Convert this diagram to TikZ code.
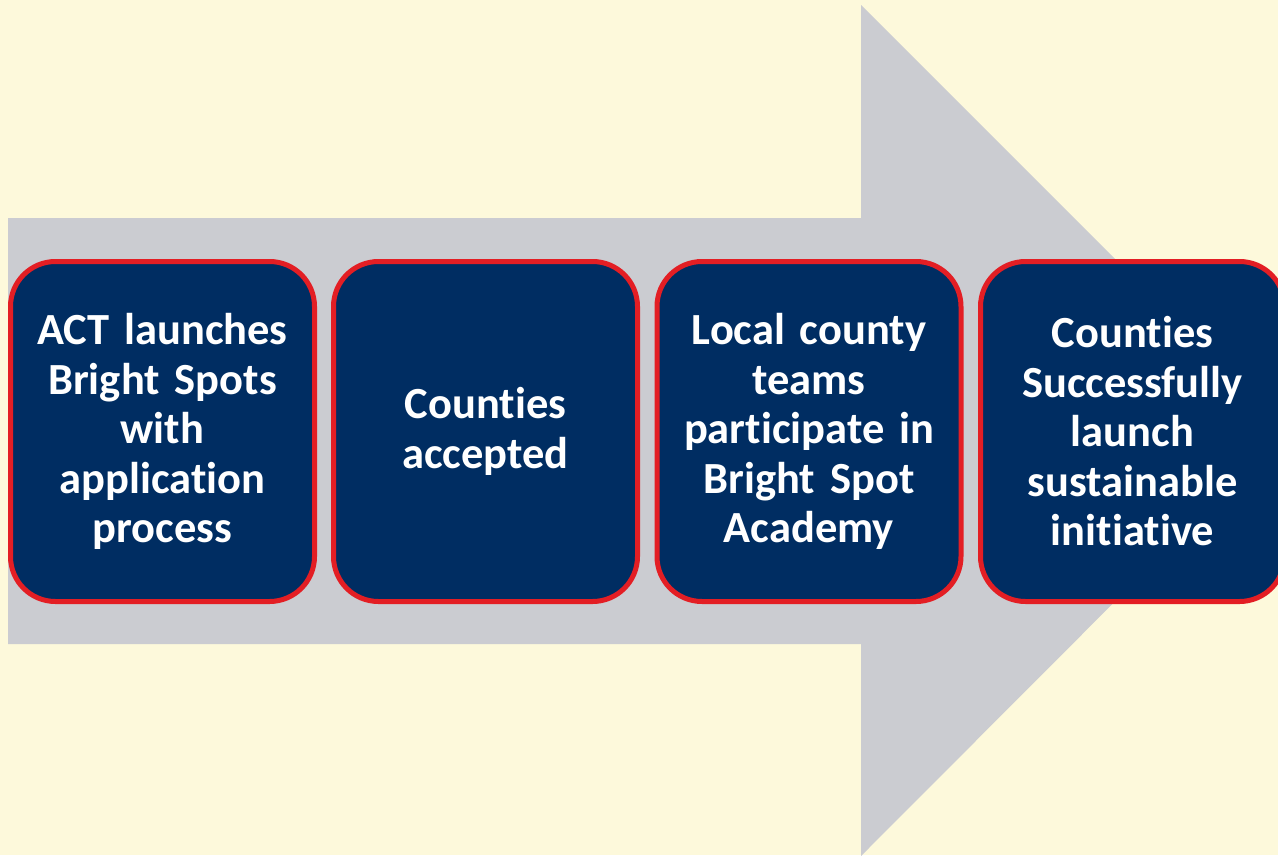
\documentclass[tikz,border=0pt]{standalone}
\usepackage{fontspec}
\setmainfont{Carlito}[Ligatures={NoCommon}]
\definecolor{bgcream}{HTML}{FDF9DB}
\definecolor{arrowgrey}{HTML}{CBCCD1}
\definecolor{boxnavy}{HTML}{002D62}
\definecolor{boxred}{HTML}{E31E24}
\protected\def\stagefont{\bfseries\fontsize{44.5}{49.5}\selectfont\fontdimen2\font=0.16em\relax}
\tikzset{
  stagebox/.style={draw=boxred, fill=boxnavy, line width=5pt, rounded corners=45pt,
    minimum width=304pt, minimum height=340pt, inner sep=0pt,
    text=white, align=center, text width=296pt,
    font=\stagefont}
}
\begin{document}
\begin{tikzpicture}[x=1pt,y=-1pt]
\useasboundingbox (0,0) rectangle (1278,855);
\clip (0,0) rectangle (1278,855);
\fill[bgcream] (0,0) rectangle (1278,855);
\fill[arrowgrey] (8,218) -- (861,218) -- (861,5) -- (1286,430) -- (861,856) -- (861,644) -- (8,644) -- cycle;
\node[stagebox] (s1) at (162.5,431.5) {ACT launches\\Bright Spots\\with\\application\\process};
\node[stagebox] (s2) at (485.5,431.5) {Counties\\accepted};
\node[stagebox] (s3) at (809,431.5) {Local county\\teams\\participate in\\Bright Spot\\Academy};
\node[stagebox] (s4) at (1132.5,431.5) {Counties\\Successfully\\launch\\sustainable\\initiative};
\end{tikzpicture}
\end{document}
